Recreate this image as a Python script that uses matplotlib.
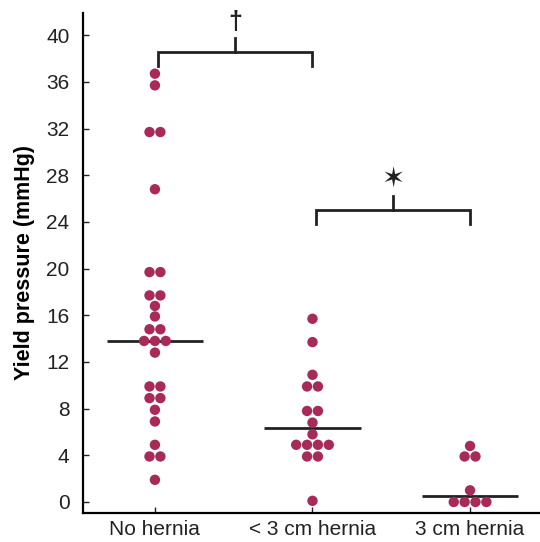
import numpy as np
import matplotlib
matplotlib.use('Agg')
import matplotlib.pyplot as plt

plt.rcParams['font.family'] = ['Liberation Sans', 'DejaVu Sans']

# data (mmHg)
categories = ['No hernia', '< 3 cm hernia', '3 cm hernia']
no_hernia = [36.7, 35.7, 31.7, 31.7, 26.8, 19.7, 19.7, 17.7, 17.7, 16.8,
             15.9, 14.8, 14.8, 13.8, 13.8, 13.8, 12.8, 9.9, 9.9, 8.9, 8.9,
             7.9, 6.9, 4.9, 3.9, 3.9, 1.9]
small_hernia = [15.7, 13.7, 10.9, 9.9, 9.9, 7.8, 7.8, 6.8, 5.8,
                4.9, 4.9, 4.9, 4.9, 3.9, 3.9, 0.1]
large_hernia = [4.8, 3.9, 3.9, 1.0, 0.0, 0.0, 0.0, 0.0]
groups = [no_hernia, small_hernia, large_hernia]

# significance brackets: (left group, right group, symbol)
brackets = [(0, 1, '\u2020'), (1, 2, '\u2736')]

DOT = '#a82a57'
INK = '#222222'
SPACING = 0.069


def swarm_x(center, values):
    """spread equal values side by side"""
    values = np.asarray(values)
    xs = np.zeros(len(values))
    for v in np.unique(values):
        idx = np.where(values == v)[0]
        n = len(idx)
        xs[idx] = center + (np.arange(n) - (n - 1) / 2) * SPACING
    return xs


fig = plt.figure(figsize=(5.40, 5.42), dpi=100)
ax = fig.add_axes([0.153, 0.054, 0.847, 0.922])

for i, vals in enumerate(groups):
    ax.scatter(swarm_x(i, vals), vals, s=56, color=DOT, edgecolors='none',
               zorder=3)
    med = np.median(vals)
    ax.plot([i - 0.305, i + 0.305], [med, med], color=INK, lw=2,
            solid_capstyle='butt', zorder=2)

bracket_y = [38.6, 25.0]
sym_size = [18, 20]
for (a, b, sym), by, fs in zip(brackets, bracket_y, sym_size):
    ax.plot([a + 0.02, a + 0.02, b, b], [by - 1.2, by, by, by - 1.2],
            color=INK, lw=2, solid_joinstyle='miter', clip_on=False)
    mid = (a + 0.02 + b) / 2
    ax.plot([mid, mid], [by, by + 1.2], color=INK, lw=2, clip_on=False)
    ax.text(mid, by + 2.5, sym, ha='center', va='center', fontsize=fs,
            fontweight='bold', color=INK, clip_on=False)

ax.set_xlim(-0.459, 2.444)
ax.set_ylim(-0.92, 41.9)
ax.set_xticks(range(len(categories)))
ax.set_xticklabels(categories)
ax.set_yticks(np.arange(0, 41, 4))

ax.spines['top'].set_visible(False)
ax.spines['right'].set_visible(False)
ax.spines['left'].set_linewidth(1.6)
ax.spines['bottom'].set_linewidth(1.6)
ax.tick_params(axis='y', direction='in', length=4.3, width=1, pad=9.5,
               labelsize=15, colors=INK)
ax.tick_params(axis='x', direction='in', length=4, width=1, pad=5,
               labelsize=15, colors=INK)

ax.set_ylabel('Yield pressure (mmHg)', fontsize=15.5, fontweight='bold')
ax.yaxis.set_label_coords(-0.104, 0.5)

plt.savefig('out.png', dpi=100)
plt.close()
